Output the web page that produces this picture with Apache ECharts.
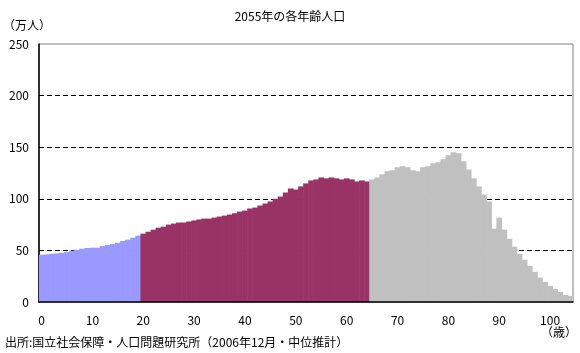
<!DOCTYPE html>
<html>
<head>
<meta charset="utf-8">
<script src="https://cdn.jsdelivr.net/npm/echarts@6/dist/echarts.min.js"></script>
<style>
 html, body { margin: 0; padding: 0; background: #fff; }
 #chart { width: 580px; height: 353px; }
</style>
</head>
<body>
<div id="chart"></div>
<script>
// 年齢 0〜104歳
const ages = []
for (let a = 0; a <= 104; a++) ages.push(String(a))

// 0〜19歳
const youngPop = [45.8, 46.1, 46.7, 47.1, 47.7, 48.4, 49.7, 50.6, 51.6, 52.3,
 52.6, 52.6, 54.2, 55.2, 56.2, 57.4, 59.1, 60.4, 62.3, 64.3]
// 20〜64歳
const workingPop = [66.2, 68.1, 70.1, 72, 73, 75, 76, 77, 77, 78,
 79, 80, 80.8, 80.8, 81.8, 82.8, 83.7, 84.7, 86, 87.6,
 88.6, 90.6, 91.5, 93.5, 95.4, 97.4, 100, 102.2, 106.1, 110,
 109, 112, 114.9, 117.8, 118.8, 120.7, 119.8, 120.7, 119.8, 118.8,
 119.8, 118.8, 116.8, 117.8, 116.8]
// 65〜104歳
const elderlyPop = [118.8, 120.7, 123.7, 126.6, 127.6, 130.5, 131.5, 130.5, 127.6, 126.6,
 130.5, 131.5, 134.4, 135.3, 138.3, 142.2, 145.1, 144.1, 136.3, 128.5,
 119.8, 112, 104.2, 97.4, 71.1, 81.8, 70.1, 61.3, 53.6, 46.7,
 40.9, 35, 29.2, 23.7, 19.5, 15.6, 12.7, 9.7, 6.8, 5.8]

const yTicks = [0, 50, 100, 150, 200, 250]

const font = '"Noto Sans CJK JP", "Noto Sans", sans-serif'

// 各系列を年齢軸の長さに合わせる
const pad = (n) => new Array(n).fill(null)
const youngData = youngPop.concat(pad(ages.length - youngPop.length))
const workingData = pad(youngPop.length).concat(workingPop, pad(elderlyPop.length))
const elderlyData = pad(youngPop.length + workingPop.length).concat(elderlyPop)

const barSeries = (data, color) => ({
 type: 'bar',
 data: data,
 barGap: '-100%',
 // 少し重ねて棒の間の白い隙間をなくす
 barWidth: '112%',
 itemStyle: { color: color },
 silent: true
})

const option = {
 animation: false,
 title: {
  text: '2055年の各年齢人口',
  left: 'center',
  top: 5,
  textStyle: { fontSize: 12, fontWeight: 'normal', color: '#000', fontFamily: font }
 },
 grid: {
  left: 39,
  right: 7,
  top: 44,
  bottom: 51,
  show: true,
  borderColor: '#808080',
  borderWidth: 1
 },
 xAxis: {
  type: 'category',
  data: ages,
  z: 10,
  axisLine: { lineStyle: { color: '#000', width: 1.5 } },
  axisTick: {
   inside: true,
   length: 4,
   lineStyle: { color: '#000' },
   interval: (i) => i % 10 === 0
  },
  axisLabel: {
   interval: (i) => i % 10 === 0,
   margin: 12,
   fontSize: 12,
   color: '#000',
   fontFamily: font
  }
 },
 yAxis: {
  type: 'value',
  min: yTicks[0],
  max: yTicks[yTicks.length - 1],
  interval: 50,
  axisLine: { show: true, lineStyle: { color: '#000', width: 1.5 } },
  axisTick: { show: false },
  axisLabel: { margin: 10, fontSize: 12, color: '#000', fontFamily: font },
  splitLine: {
   show: true,
   showMinLine: false,
   showMaxLine: false,
   lineStyle: { color: '#000', type: [5, 3], width: 1 }
  }
 },
 graphic: [
  { type: 'text', left: 3, top: 19, style: { text: '（万人）', fontSize: 12, fill: '#000', fontFamily: font } },
  { type: 'text', right: 3, top: 326, style: { text: '（歳）', fontSize: 12, fill: '#000', fontFamily: font } },
  { type: 'text', left: 5, top: 336, style: { text: '出所:国立社会保障・人口問題研究所（2006年12月・中位推計）', fontSize: 12, fill: '#000', fontFamily: font } }
 ],
 series: [
  barSeries(youngData, '#9999FF'),
  barSeries(workingData, '#993366'),
  barSeries(elderlyData, '#C0C0C0')
 ]
}

const chart = echarts.init(document.getElementById('chart'))
chart.setOption(option)
</script>
</body>
</html>
